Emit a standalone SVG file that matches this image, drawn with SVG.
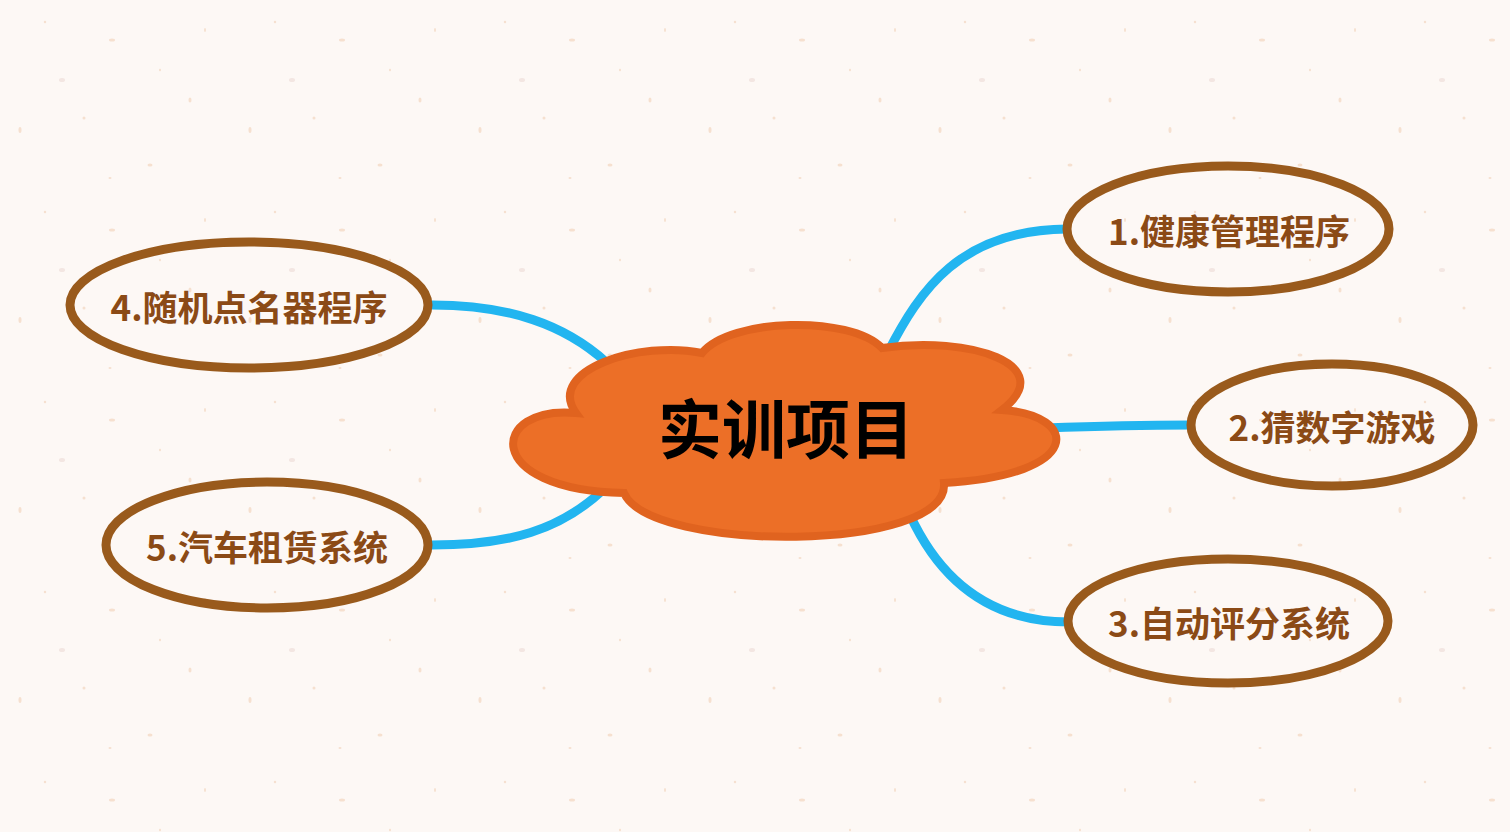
<svg xmlns="http://www.w3.org/2000/svg" width="1510" height="832" viewBox="0 0 1510 832">
<style>
.conn{fill:none;stroke:#22b5f0;stroke-width:9;stroke-linecap:butt}
.topic{fill:none;stroke:#995a1c;stroke-width:9}
.tlabel{font-family:"Noto Sans CJK SC","Noto Sans",sans-serif;font-weight:bold;font-size:35px;fill:#8b4a16;text-anchor:middle}
.main{font-family:"Noto Sans CJK SC","Noto Sans",sans-serif;font-weight:bold;font-size:64px;fill:#000;text-anchor:middle}
.sp{fill:#f6e0cf}
</style>
<defs>
<pattern id="paper" width="230" height="190" patternUnits="userSpaceOnUse">
<rect width="230" height="190" fill="#fdf8f5"/>
<ellipse class="sp" cx="112" cy="40" rx="3" ry="1.5"/>
<ellipse class="sp" cx="20" cy="130" rx="1.5" ry="3"/>
<ellipse class="sp" cx="84" cy="118" rx="1.5" ry="1.5"/>
<ellipse class="sp" cx="190" cy="100" rx="1.5" ry="2.5"/>
<ellipse class="sp" cx="45" cy="22" rx="1.2" ry="1.2"/>
<ellipse class="sp" cx="150" cy="165" rx="2.5" ry="1.5"/>
<ellipse cx="62" cy="80" rx="3" ry="2" fill="#f3e6e2"/>
<ellipse class="sp" cx="205" cy="30" rx="1" ry="2"/>
<ellipse class="sp" cx="110" cy="178" rx="1.5" ry="1"/>
<ellipse class="sp" cx="160" cy="70" rx="1" ry="1.2"/>
</pattern>
</defs>
<rect width="1510" height="832" fill="url(#paper)"/>
<g id="connectors">
<path class="conn" d="M888,352 C920,290 960,230 1067,229"/>
<path class="conn" d="M1045,428 C1100,426 1140,425 1190,425"/>
<path class="conn" d="M910,515 C940,580 990,622 1069,622"/>
<path class="conn" d="M432,305 C510,305 565,325 606,362"/>
<path class="conn" d="M432,545 C510,545 560,530 603,490"/>
</g>
<g id="center">
<path d="M702,353 C730,318 850,315 882,348 C970,335 1060,365 1002,410 C1080,415 1085,475 944,483 C950,553 650,553 624,493 C480,490 490,405 576,413 C545,370 640,340 702,353 Z" fill="#ec6f27" stroke="#e0631f" stroke-width="8"/>
<text class="main" x="786" y="453">实训项目</text>
</g>
<g id="topic1">
<ellipse class="topic" cx="1228" cy="229" rx="161" ry="63"/>
<text class="tlabel" x="1229" y="245">1.健康管理程序</text>
</g>
<g id="topic2">
<ellipse class="topic" cx="1332" cy="425" rx="141" ry="61"/>
<text class="tlabel" x="1332" y="441">2.猜数字游戏</text>
</g>
<g id="topic3">
<ellipse class="topic" cx="1228" cy="621" rx="160" ry="62"/>
<text class="tlabel" x="1229" y="637">3.自动评分系统</text>
</g>
<g id="topic4">
<ellipse class="topic" cx="249" cy="305" rx="179" ry="63"/>
<text class="tlabel" x="249" y="321">4.随机点名器程序</text>
</g>
<g id="topic5">
<ellipse class="topic" cx="267" cy="545" rx="161" ry="63"/>
<text class="tlabel" x="267" y="561">5.汽车租赁系统</text>
</g>
</svg>
